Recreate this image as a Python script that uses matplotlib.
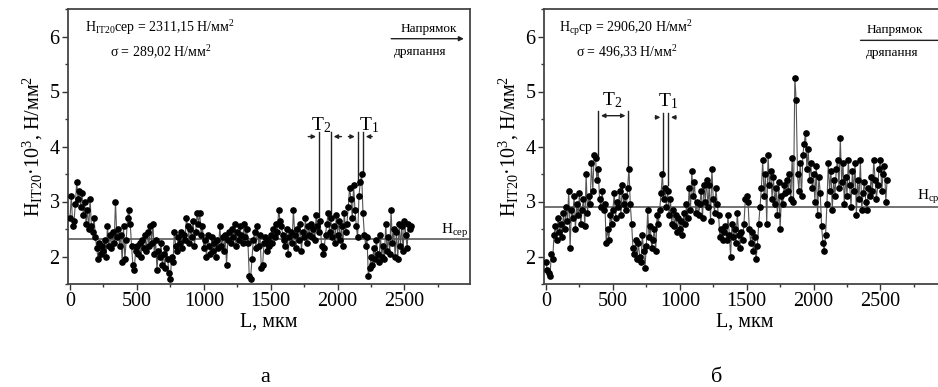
import numpy as np
import matplotlib
matplotlib.use("Agg")
import matplotlib.pyplot as plt
from matplotlib.ticker import MultipleLocator

plt.rcParams['font.family'] = ['Liberation Serif', 'DejaVu Serif']
plt.rcParams['mathtext.fontset'] = 'custom'
plt.rcParams['mathtext.rm'] = 'Liberation Serif'
plt.rcParams['mathtext.it'] = 'Liberation Serif:italic'
plt.rcParams['mathtext.default'] = 'regular'

# ---------------- data ----------------
L_a = np.arange(0, 2560, 10)
H_a = [
    2.70, 3.10, 2.55, 2.65, 2.95, 3.35, 3.05, 3.20, 2.90, 3.15,
    2.75, 3.00, 2.60, 2.85, 2.50, 3.05, 2.55, 2.45, 2.70, 2.35,
    2.15, 1.95, 2.25, 2.05, 2.20, 2.10, 2.30, 2.00, 2.55, 2.20,
    2.40, 2.15, 2.45, 2.25, 3.00, 2.35, 2.50, 2.20, 2.40, 1.90,
    2.55, 1.95, 2.30, 2.70, 2.85, 2.60, 2.20, 1.85, 1.75, 2.10,
    2.20, 2.05, 2.25, 2.00, 2.30, 2.15, 2.40, 2.10, 2.45, 2.20,
    2.55, 2.25, 2.60, 2.05, 2.30, 1.75, 2.10, 2.00, 2.25, 1.85,
    2.05, 1.80, 2.15, 1.95, 1.70, 1.60, 2.00, 1.90, 2.45, 2.20,
    2.10, 2.35, 2.25, 2.45, 2.15, 2.40, 2.30, 2.70, 2.55, 2.25,
    2.50, 2.35, 2.65, 2.20, 2.45, 2.80, 2.60, 2.80, 2.40, 2.55,
    2.15, 2.30, 2.00, 2.40, 2.20, 2.05, 2.35, 2.10, 2.25, 2.00,
    2.30, 2.15, 2.55, 2.20, 2.35, 2.10, 2.40, 1.85, 2.30, 2.45,
    2.25, 2.50, 2.35, 2.60, 2.20, 2.45, 2.30, 2.55, 2.40, 2.25,
    2.60, 2.35, 2.50, 2.25, 1.65, 1.60, 1.95, 2.30, 2.45, 2.15,
    2.55, 2.20, 2.40, 1.80, 1.85, 2.25, 2.35, 2.10, 2.30, 2.20,
    2.40, 2.25, 2.50, 2.35, 2.60, 2.45, 2.85, 2.65, 2.55, 2.40,
    2.30, 2.20, 2.50, 2.05, 2.35, 2.45, 2.25, 2.85, 2.40, 2.15,
    2.50, 2.30, 2.60, 2.10, 2.45, 2.35, 2.70, 2.25, 2.55, 2.40,
    2.60, 2.35, 2.50, 2.30, 2.75, 2.55, 2.45, 2.65, 2.20, 2.05,
    2.15, 2.40, 2.60, 2.80, 2.45, 2.70, 2.35, 2.55, 2.25, 2.75,
    2.40, 2.65, 2.30, 2.55, 2.20, 2.80, 2.45, 2.60, 2.90, 3.25,
    3.05, 2.70, 3.30, 2.85, 2.55, 2.35, 3.10, 3.35, 3.50, 2.80,
    2.40, 2.20, 2.35, 1.65, 1.80, 2.00, 1.85, 2.15, 1.95, 2.30,
    2.05, 1.90, 2.40, 2.00, 2.20, 1.95, 2.60, 2.10, 2.35, 2.05,
    2.85, 2.25, 2.50, 2.00, 2.45, 1.95, 2.60, 2.20, 2.55, 2.10,
    2.65, 2.40, 2.15, 2.60, 2.50, 2.55,
]
L_b = np.arange(0, 2560, 10)
H_b = [
    1.90, 1.75, 1.70, 1.65, 2.05, 1.95, 2.40, 2.55, 2.30, 2.70,
    2.45, 2.60, 2.35, 2.80, 2.50, 2.90, 2.65, 3.20, 2.15, 2.85,
    2.70, 3.10, 2.50, 2.95, 2.75, 3.15, 2.60, 2.85, 3.05, 2.55,
    3.50, 2.80, 3.10, 2.95, 3.70, 3.20, 3.85, 3.80, 3.40, 3.60,
    3.05, 2.90, 3.20, 2.85, 2.95, 2.25, 2.50, 2.30, 2.75, 2.60,
    2.85, 3.15, 2.70, 3.00, 2.90, 3.20, 2.75, 3.30, 2.95, 3.10,
    2.85, 3.25, 3.60, 2.95, 2.60, 2.15, 2.05, 2.30, 1.95, 2.25,
    2.00, 1.90, 2.40, 2.10, 1.80, 2.20, 2.85, 2.35, 2.55, 2.15,
    2.30, 2.50, 2.10, 2.75, 2.60, 2.85, 3.15, 3.50, 3.05, 3.25,
    2.90, 3.20, 2.75, 3.05, 2.60, 2.85, 2.55, 2.75, 2.45, 2.70,
    2.50, 2.65, 2.40, 2.80, 2.60, 2.95, 2.70, 3.25, 2.85, 3.55,
    3.10, 3.35, 2.80, 3.00, 2.75, 2.95, 3.20, 2.70, 3.30, 3.00,
    3.40, 2.90, 3.30, 2.65, 3.60, 3.05, 2.80, 3.25, 2.95, 2.75,
    2.35, 2.50, 2.30, 2.45, 2.55, 2.30, 2.75, 2.40, 2.00, 2.60,
    2.35, 2.50, 2.25, 2.80, 2.40, 2.15, 2.45, 2.30, 2.60, 3.05,
    3.10, 3.00, 2.50, 2.25, 2.45, 2.10, 2.35, 1.95, 2.20, 2.60,
    2.90, 3.25, 3.75, 3.10, 3.50, 2.60, 3.85, 3.30, 3.55, 3.05,
    3.45, 2.95, 3.25, 2.75, 3.35, 2.50, 3.10, 2.95, 3.30, 3.15,
    3.40, 3.20, 3.50, 3.05, 3.80, 3.00, 5.25, 4.85, 3.50, 3.20,
    3.70, 3.10, 3.85, 4.05, 4.25, 3.60, 3.95, 3.40, 3.70, 3.25,
    3.50, 3.00, 3.65, 2.75, 3.45, 3.15, 2.55, 2.25, 2.10, 2.40,
    2.95, 3.70, 3.20, 3.55, 2.85, 3.40, 3.10, 3.60, 3.75, 3.25,
    4.15, 3.35, 3.70, 2.95, 3.45, 3.10, 3.75, 3.30, 2.90, 3.55,
    3.20, 3.70, 2.75, 3.40, 3.05, 3.75, 2.85, 3.15, 3.35, 3.00,
    2.85, 3.25, 3.10, 3.45, 3.20, 3.75, 3.40, 3.05, 3.30, 3.60,
    3.75, 3.20, 3.50, 3.65, 3.00, 3.40,
]
mean_a = 2.31115
mean_b = 2.90620
x_ticks = [0, 500, 1000, 1500, 2000, 2500]
y_ticks = [2, 3, 4, 5, 6]

W, Hpx = 938, 387
fig = plt.figure(figsize=(W / 100, Hpx / 100), dpi=100)

def px(x0, y0, x1, y1):
    return [x0 / W, 1 - y1 / Hpx, (x1 - x0) / W, (y1 - y0) / Hpx]

ax1 = fig.add_axes(px(68, 9, 470, 284))
ax2 = fig.add_axes(px(544, 9, 946, 284))

ylab = 'H$_{\\mathrm{IT20}}$·10$^3$, Н/мм$^2$'
DARK = '#222222'

for ax, L, H, m in [(ax1, L_a, H_a, mean_a), (ax2, L_b, H_b, mean_b)]:
    ax.plot(L, H, '-', color='#555555', lw=0.8, zorder=2)
    ax.plot(L, H, 'o', color='black', ms=3.8, mec='black', zorder=3)
    ax.axhline(m, color='#666666', lw=1.3, zorder=1)
    ax.set_xlim(-15, 2990)
    ax.set_ylim(1.5, 6.5)
    ax.set_xticks(x_ticks)
    ax.set_yticks(y_ticks)
    ax.xaxis.set_minor_locator(MultipleLocator(250))
    ax.yaxis.set_minor_locator(MultipleLocator(0.5))
    ax.tick_params(which='both', direction='out', top=False, right=False,
                   labelsize=14.5, width=1, color='#333333', pad=2)
    ax.tick_params(which='major', length=4)
    ax.tick_params(which='minor', length=2.5)
    for s in ax.spines.values():
        s.set_linewidth(1.3)
        s.set_color('#444444')
    ax.set_xlabel('L, мкм', fontsize=14.5, labelpad=1)
    ax.set_ylabel(ylab, fontsize=14.5, labelpad=3)

arrow_kw = dict(arrowstyle='-|>', color=DARK, lw=1.0, mutation_scale=7)

# panel a annotations
ax1.text(110, 6.16, 'H$_{\\mathrm{IT20}}$сер = 2311,15 Н/мм$^2$', fontsize=10, va='center')
ax1.text(300, 5.72, 'σ = 289,02 Н/мм$^2$', fontsize=10, va='center')
ax1.annotate('', xy=(2965, 5.96), xytext=(2380, 5.96), arrowprops=arrow_kw,
             annotation_clip=False)
ax1.text(2680, 6.13, 'Напрямок', fontsize=9.5, ha='center', va='center')
ax1.text(2620, 5.72, 'дряпання', fontsize=9.5, ha='center', va='center')
ax1.text(2770, 2.46, 'H$_{\\mathrm{сер}}$', fontsize=11, ha='left', va='center')

def bracket_out(ax, xa, xb, y, bot_a, bot_b, ext):
    ax.plot([xa, xa], [bot_a, y + 0.08], color=DARK, lw=1.0)
    ax.plot([xb, xb], [bot_b, y + 0.08], color=DARK, lw=1.0)
    ax.annotate('', xy=(xa, y), xytext=(xa - ext, y),
                arrowprops=dict(arrowstyle='-|>', color=DARK, lw=1.0, mutation_scale=6))
    ax.annotate('', xy=(xb, y), xytext=(xb + ext, y),
                arrowprops=dict(arrowstyle='-|>', color=DARK, lw=1.0, mutation_scale=6))

bracket_out(ax1, 1860, 1950, 4.18, 2.72, 2.78, 100)
ax1.text(1880, 4.38, 'T$_2$', fontsize=14, ha='center', va='center')
bracket_out(ax1, 2150, 2190, 4.18, 3.30, 3.50, 90)
ax1.text(2235, 4.38, 'T$_1$', fontsize=14, ha='center', va='center')

# panel b annotations
ax2.text(100, 6.16, 'H$_{\\mathrm{ср}}$ср = 2906,20 Н/мм$^2$', fontsize=10, va='center')
ax2.text(225, 5.72, 'σ = 496,33 Н/мм$^2$', fontsize=10, va='center')
ax2.annotate('', xy=(3010, 5.93), xytext=(2330, 5.93), arrowprops=arrow_kw,
             annotation_clip=False)
ax2.text(2610, 6.11, 'Напрямок', fontsize=9.5, ha='center', va='center')
ax2.text(2590, 5.70, 'дряпання', fontsize=9.5, ha='center', va='center')
ax2.text(2770, 3.09, 'H$_{\\mathrm{ср}}$', fontsize=11, ha='left', va='center')

# T2 on panel b: arrows inside, pointing outward
ax2.plot([390, 390], [3.85, 4.65], color=DARK, lw=1.0)
ax2.plot([615, 615], [3.60, 4.65], color=DARK, lw=1.0)
ax2.annotate('', xy=(390, 4.56), xytext=(615, 4.56),
             arrowprops=dict(arrowstyle='<|-|>', color=DARK, lw=1.0, mutation_scale=6))
ax2.text(495, 4.85, 'T$_2$', fontsize=14, ha='center', va='center')
bracket_out(ax2, 876, 913, 4.53, 3.50, 3.30, 80)
ax2.text(915, 4.82, 'T$_1$', fontsize=14, ha='center', va='center')

fig.text(265 / W, 1 - 377 / Hpx, 'а', fontsize=16, ha='center', va='center')
fig.text(717 / W, 1 - 377 / Hpx, 'б', fontsize=16, ha='center', va='center')

fig.savefig('out.png', dpi=100)
